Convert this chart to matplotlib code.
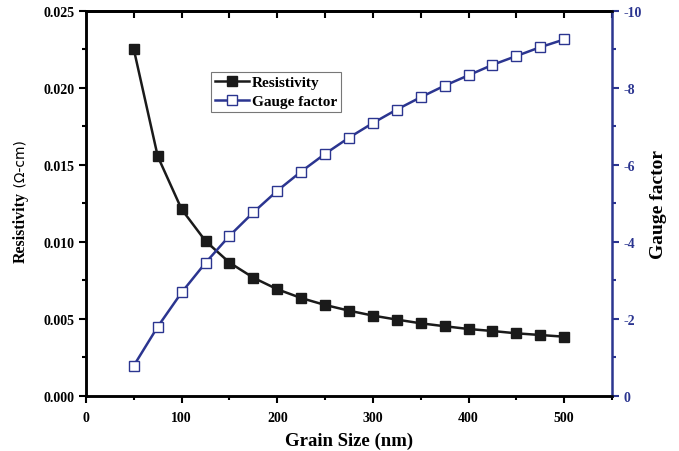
import matplotlib.pyplot as plt
from matplotlib.ticker import MultipleLocator

grain_size = [50, 75, 100, 125, 150, 175, 200, 225, 250, 275, 300, 325, 350, 375, 400, 425, 450, 475, 500]
resistivity = [0.0225, 0.01556, 0.01212, 0.01006, 0.00866, 0.00768, 0.00693, 0.00636, 0.00591, 0.00554,
               0.00522, 0.00496, 0.00472, 0.00453, 0.00435, 0.00422, 0.00407, 0.00396, 0.00385]
gauge_factor = [-0.79, -1.80, -2.69, -3.46, -4.16, -4.77, -5.33, -5.83, -6.29, -6.71,
                -7.09, -7.44, -7.76, -8.06, -8.33, -8.60, -8.83, -9.06, -9.26]

blue = "#2b3590"
plt.rcParams["font.family"] = ["Liberation Serif", "DejaVu Serif"]
plt.rcParams["font.weight"] = "bold"

fig = plt.figure(figsize=(6.79, 4.52), dpi=100)
ax = fig.add_axes([0.1267, 0.1217, 0.7746, 0.8518])
ax2 = ax.twinx()

l1, = ax.plot(grain_size, resistivity, color="#1a1a1a", lw=1.8, marker="s", ms=6.5,
              mfc="#1a1a1a", mec="#1a1a1a", label="Resistivity")
l2, = ax2.plot(grain_size, gauge_factor, color=blue, lw=1.8, marker="s", ms=6.5,
               mfc="white", mec=blue, mew=1.0, label="Gauge factor")

ax.set_xlim(0, 550)
ax.set_ylim(0, 0.025)
ax2.set_ylim(0, -10)

ax.xaxis.set_major_locator(MultipleLocator(100))
ax.xaxis.set_minor_locator(MultipleLocator(50))
ax.yaxis.set_major_locator(MultipleLocator(0.005))
ax.yaxis.set_minor_locator(MultipleLocator(0.0025))
ax2.yaxis.set_major_locator(MultipleLocator(2))
ax2.yaxis.set_minor_locator(MultipleLocator(1))
ax.yaxis.set_major_formatter(plt.FormatStrFormatter("%.3f"))
ax2.yaxis.set_major_formatter(plt.FormatStrFormatter("%d"))

for a in (ax, ax2):
    for s in a.spines.values():
        s.set_linewidth(1.8)
ax2.spines["right"].set_color(blue)
ax.spines["right"].set_visible(False)

ax.tick_params(axis="both", which="major", direction="out", length=5, width=1.5, labelsize=10)
ax.tick_params(axis="both", which="minor", direction="out", length=3, width=1.5)
ax.tick_params(axis="x", which="both", pad=6)
ax2.tick_params(axis="y", which="major", direction="out", length=5, width=1.5, colors=blue, labelsize=10)
ax2.tick_params(axis="y", which="minor", direction="out", length=3, width=1.5, colors=blue)

# top ticks drawn inward
sec = ax.secondary_xaxis("top")
sec.set_xticks(range(50, 551, 50))
sec.tick_params(direction="in", length=5, width=1.5, labeltop=False)
sec.spines["top"].set_linewidth(1.8)

ax.set_xlabel("Grain Size (nm)", fontsize=13.5, fontweight="bold", labelpad=5)
ax2.set_ylabel("Gauge factor", fontsize=14, fontweight="bold", labelpad=6, rotation=90)

t1 = ax.text(-0.125, 0.44, "Resistivity", transform=ax.transAxes, rotation=90,
             fontsize=11.5, fontweight="bold", ha="center", va="center")
ax.annotate(" (\u03a9-cm)", xy=(0.5, 1.0), xycoords=t1, rotation=90, ha="center", va="bottom",
            fontsize=10, fontweight="normal", family="DejaVu Sans")

leg = ax.legend(handles=[l1, l2], loc="upper left", bbox_to_anchor=(0.238, 0.842),
                fontsize=11, frameon=True, fancybox=False, edgecolor="#555555",
                handlelength=2.2, handletextpad=0.2, borderpad=0.25, labelspacing=0.35,
                borderaxespad=0.0)
leg.get_frame().set_linewidth(0.8)

fig.savefig("out.png", dpi=100)
